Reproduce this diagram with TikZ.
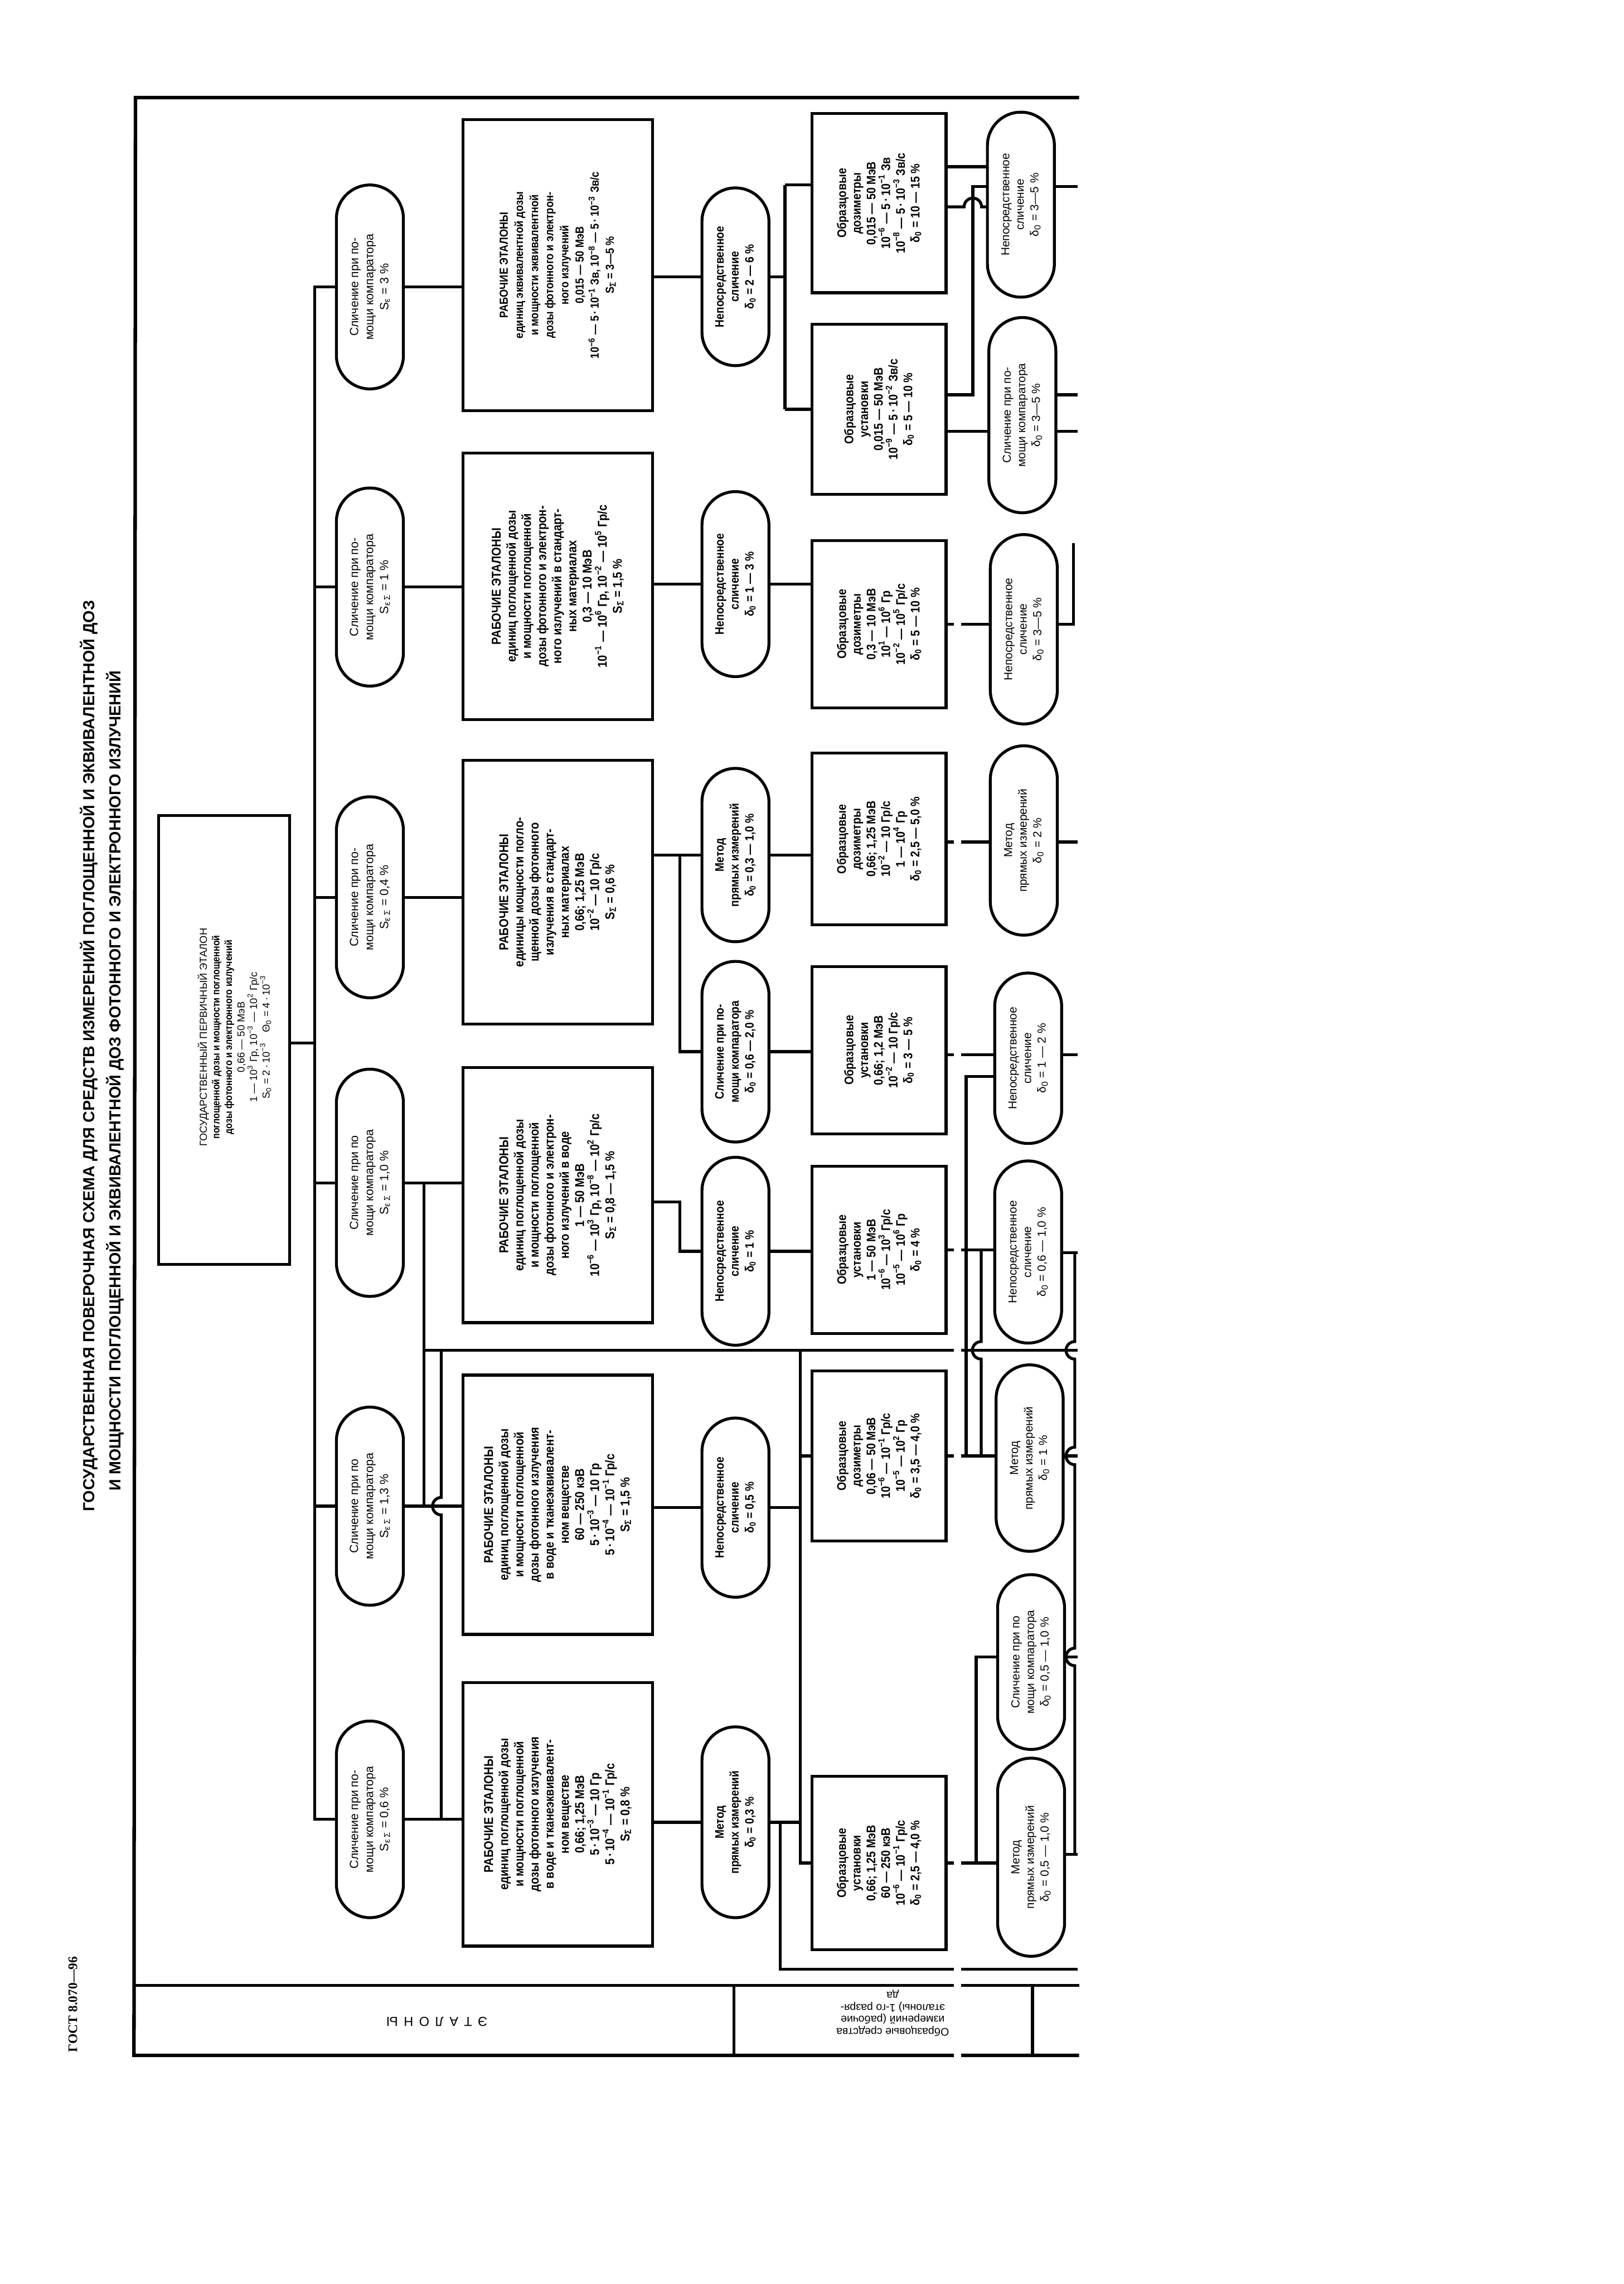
\documentclass[tikz,border=0pt]{standalone}
\usepackage{fontspec}
\setmainfont{Liberation Sans}
\newfontfamily\gostfont{Liberation Serif}
\newfontfamily\condfont[FakeStretch=0.88]{Liberation Sans}
\usetikzlibrary{shapes.misc}
\newcommand\myup[1]{\textsuperscript{#1}}
\newcommand\mydn[1]{\textsubscript{#1}}
\begin{document}
\begin{tikzpicture}[x=1pt,y=-1pt,
  every node/.style={inner sep=0pt,outer sep=0pt},
  ln/.style={line width=2pt},
  box/.style={draw,line width=2pt,rectangle,rotate=90,align=center},
  rbox/.style={box,minimum height=130,font=\condfont\bfseries\fontsize{8.8}{10.4}\selectfont},
  rboxs/.style={box,minimum height=130,font=\condfont\bfseries\fontsize{8}{10.4}\selectfont},
  obox/.style={box,minimum height=92,font=\condfont\bfseries\fontsize{8.6}{10.1}\selectfont},
  pill/.style={draw,line width=2pt,rounded rectangle,rotate=90,align=center,minimum height=46},
  cpill/.style={pill,font=\fontsize{8.2}{10.3}\selectfont},
  ppill/.style={pill,font=\condfont\bfseries\fontsize{8.4}{10.3}\selectfont},
  qpill/.style={pill,font=\fontsize{8}{10}\selectfont},
  ttl/.style={rotate=90,font=\bfseries\fontsize{11}{13}\selectfont},
]
\useasboundingbox (0,0) rectangle (1115,1568);
\fill[white] (0,0) rectangle (1115,1568);
\coordinate (pe) at (740,0);

% frame and label row
\draw[line width=2.4pt] (741,67) -- (93,67) -- (92,1411) -- (741,1411);
\draw[ln] (92,1363) -- (741,1363);
\draw[ln] (504,1363) -- (504,1411);
\draw[ln] (709,1363) -- (709,1411);
\node[rotate=180,font=\fontsize{9}{10}\selectfont] (L1) at (300,1388) {Э\hspace{4pt}Т\hspace{4pt}А\hspace{4pt}Л\hspace{4pt}О\hspace{4pt}Н\hspace{4pt}Ы};
\node[rotate=180,align=center,font=\fontsize{7.5}{8.2}\selectfont] (L2) at (613,1382) {Образцовые средства\\измерений (рабочие\\эталоны) 1-го разря-\\да};

% title
\node[ttl] (T1) at (61,725) {ГОСУДАРСТВЕННАЯ ПОВЕРОЧНАЯ СХЕМА ДЛЯ СРЕДСТВ ИЗМЕРЕНИЙ ПОГЛОЩЕННОЙ И ЭКВИВАЛЕНТНОЙ ДОЗ};
\node[ttl] (T2) at (79,742) {И МОЩНОСТИ ПОГЛОЩЕННОЙ И ЭКВИВАЛЕНТНОЙ ДОЗ ФОТОННОГО И ЭЛЕКТРОННОГО ИЗЛУЧЕНИЙ};
\node[rotate=90,font=\gostfont\bfseries\fontsize{9}{10}\selectfont] (G) at (50,1376) {ГОСТ 8.070—96};

% primary standard
\node[box,minimum width=308,minimum height=90] (B) at (154,714) {};
\node[rotate=90,align=center,font=\fontsize{7}{8.6}\selectfont] (Bt) at (161,712) {ГОСУДАРСТВЕННЫЙ ПЕРВИЧНЫЙ ЭТАЛОН\\
{\condfont\bfseries поглощенной дозы и мощности поглощенной}\\
{\condfont\bfseries дозы фотонного и электронного излучений}\\
0,66 — 50 МэВ\\
1 — 10\myup{3} Гр, 10\myup{−3} — 10\myup{2} Гр/с\\
S\mydn{0} = 2\,·\,10\myup{−3}\quad Θ\mydn{0} = 4\,·\,10\myup{−3}};

% comparison pills
\node[cpill,minimum width=140] (C6) at (254,197) {Сличение при по-\\мощи компаратора\\S\mydn{ε} = 3 \%};
\node[cpill,minimum width=136] (C5) at (254,403) {Сличение при по-\\мощи компаратора\\S\mydn{ε Σ} = 1 \%};
\node[cpill,minimum width=138] (C4) at (254,616) {Сличение при по-\\мощи компаратора\\S\mydn{ε Σ} = 0,4 \%};
\node[cpill,minimum width=156] (C3) at (254,812) {Сличение при по\\мощи компаратора\\S\mydn{ε Σ} = 1,0 \%};
\node[cpill,minimum width=136] (C2) at (254,1034) {Сличение при по\\мощи компаратора\\S\mydn{ε Σ} = 1,3 \%};
\node[cpill,minimum width=135] (C1) at (254,1249) {Сличение при по-\\мощи компаратора\\S\mydn{ε Σ} = 0,6 \%};

% working standards
\node[rboxs,minimum width=200] (R6) at (383,182) {РАБОЧИЕ ЭТАЛОНЫ\\единиц эквивалентной дозы\\и мощности эквивалентной\\дозы фотонного и электрон-\\ного излучений\\0,015 — 50 МэВ\\10\myup{−6} — 5\,·\,10\myup{−1} Зв, 10\myup{−8} — 5\,·\,10\myup{−3} Зв/с\\S\mydn{Σ} = 3—5 \%};
\node[rbox,minimum width=183] (R5) at (383,402.5) {РАБОЧИЕ ЭТАЛОНЫ\\единиц поглощенной дозы\\и мощности поглощенной\\дозы фотонного и электрон-\\ного излучений в стандарт-\\ных материалах\\0,3 — 10 МэВ\\10\myup{−1} — 10\myup{6} Гр, 10\myup{−2} — 10\myup{5} Гр/с\\S\mydn{Σ} = 1,5 \%};
\node[rbox,minimum width=181] (R4) at (383,612.5) {РАБОЧИЕ ЭТАЛОНЫ\\единицы мощности погло-\\щенной дозы фотонного\\излучения в стандарт-\\ных материалах\\0,66; 1,25 МэВ\\10\myup{−2} — 10 Гр/с\\S\mydn{Σ} = 0,6 \%};
\node[rbox,minimum width=175] (R3) at (383,820.5) {РАБОЧИЕ ЭТАЛОНЫ\\единиц поглощенной дозы\\и мощности поглощенной\\дозы фотонного и электрон-\\ного излучений в воде\\1 — 50 МэВ\\10\myup{−6} — 10\myup{3} Гр, 10\myup{−8} — 10\myup{2} Гр/с\\S\mydn{Σ} = 0,8 — 1,5 \%};
\node[rbox,minimum width=178] (R2) at (383,1033) {РАБОЧИЕ ЭТАЛОНЫ\\единиц поглощенной дозы\\и мощности поглощенной\\дозы фотонного излучения\\в воде и тканеэквивалент-\\ном веществе\\60 — 250 кэВ\\5\,·\,10\myup{−3} — 10 Гр\\5\,·\,10\myup{−4} — 10\myup{−1} Гр/с\\S\mydn{Σ} = 1,5 \%};
\node[rbox,minimum width=181] (R1) at (383,1245.5) {РАБОЧИЕ ЭТАЛОНЫ\\единиц поглощенной дозы\\и мощности поглощенной\\дозы фотонного излучения\\в воде и тканеэквивалент-\\ном веществе\\0,66; 1,25 МэВ\\5\,·\,10\myup{−3} — 10 Гр\\5\,·\,10\myup{−4} — 10\myup{−1} Гр/с\\S\mydn{Σ} = 0,8 \%};

% method pills
\node[ppill,minimum width=122] (P6) at (505,190) {Непосредственное\\сличение\\δ\mydn{0} = 2 — 6 \%};
\node[ppill,minimum width=127] (P5) at (505,401) {Непосредственное\\сличение\\δ\mydn{0} = 1 — 3 \%};
\node[ppill,minimum width=119] (P4a) at (505,587) {Метод\\прямых измерений\\δ\mydn{0} = 0,3 — 1,0 \%};
\node[ppill,minimum width=124] (P4b) at (505,722) {Сличение при по-\\мощи компаратора\\δ\mydn{0} = 0,6 — 2,0 \%};
\node[ppill,minimum width=129] (P3) at (505,859) {Непосредственное\\сличение\\δ\mydn{0} = 1 \%};
\node[ppill,minimum width=123] (P2) at (505,1035) {Непосредственное\\сличение\\δ\mydn{0} = 0,5 \%};
\node[ppill,minimum width=131] (P1) at (505,1251) {Метод\\прямых измерений\\δ\mydn{0} = 0,3 \%};

% reference instruments
\node[obox,minimum width=123] (O6a) at (603.6,139.5) {Образцовые\\дозиметры\\0,015 — 50 МэВ\\10\myup{−6} — 5\,·\,10\myup{−1} Зв\\10\myup{−8} — 5\,·\,10\myup{−3} Зв/с\\δ\mydn{0} = 10 — 15 \%};
\node[obox,minimum width=117] (O6b) at (603.6,281) {Образцовые\\установки\\0,015 — 50 МэВ\\10\myup{−9} — 5\,·\,10\myup{−2} Зв/с\\δ\mydn{0} = 5 — 10 \%};
\node[obox,minimum width=115] (O5) at (603.6,428.5) {Образцовые\\дозиметры\\0,3 — 10 МэВ\\10\myup{1} — 10\myup{6} Гр\\10\myup{−2} — 10\myup{5} Гр/с\\δ\mydn{0} = 5 — 10 \%};
\node[obox,minimum width=118] (O4a) at (603.6,576) {Образцовые\\дозиметры\\0,66; 1,25 МэВ\\10\myup{−2} — 10 Гр/с\\1 — 10\myup{4} Гр\\δ\mydn{0} = 2,5 — 5,0 \%};
\node[obox,minimum width=115] (O4b) at (603.6,721) {Образцовые\\установки\\0,66; 1,2 МэВ\\10\myup{−2} — 10 Гр/с\\δ\mydn{0} = 3 — 5 \%};
\node[obox,minimum width=115] (O3) at (603.6,858) {Образцовые\\установки\\1 — 50 МэВ\\10\myup{−6} — 10\myup{3} Гр/с\\10\myup{−5} — 10\myup{6} Гр\\δ\mydn{0} = 4 \%};
\node[obox,minimum width=117] (O2) at (603.6,999.5) {Образцовые\\дозиметры\\0,06 — 50 МэВ\\10\myup{−6} — 10\myup{−1} Гр/с\\10\myup{−5} — 10\myup{2} Гр\\δ\mydn{0} = 3,5 — 4,0 \%};
\node[obox,minimum width=119] (O1) at (603.6,1279) {Образцовые\\установки\\0,66; 1,25 МэВ\\60 — 250 кэВ\\10\myup{−6} — 10\myup{−1} Гр/с\\δ\mydn{0} = 2,5 — 4,0 \%};

% right column pills
\node[qpill,minimum width=127] (Q6a) at (701,140.5) {Непосредственное\\сличение\\δ\mydn{0} = 3—5 \%};
\node[qpill,minimum width=134] (Q6b) at (702,285) {Сличение при по-\\мощи компаратора\\δ\mydn{0} = 3—5 \%};
\node[qpill,minimum width=130] (Q5) at (703,432) {Непосредственное\\сличение\\δ\mydn{0} = 3—5 \%};
\node[qpill,minimum width=130] (Q4a) at (703,577) {Метод\\прямых измерений\\δ\mydn{0} = 2 \%};
\node[qpill,minimum width=117] (Q4b) at (706,726.5) {Непосредственное\\сличение\\δ\mydn{0} = 1 — 2 \%};
\node[qpill,minimum width=125] (Q3) at (706,859.5) {Непосредственное\\сличение\\δ\mydn{0} = 0,6 — 1,0 \%};
\node[qpill,minimum width=128] (Q2a) at (707,1001) {Метод\\прямых измерений\\δ\mydn{0} = 1 \%};
\node[qpill,minimum width=120] (Q2b) at (708,1141) {Сличение при по\\мощи компаратора\\δ\mydn{0} = 0,5 — 1,0 \%};
\node[qpill,minimum width=136] (Q1) at (708,1275) {Метод\\прямых измерений\\δ\mydn{0} = 0,5 — 1,0 \%};

% main bus
\coordinate (bt) at (216,197);
\coordinate (bb) at (216,1249);
\draw[ln] (C6.north) -- (bt) -- (bb) -- (C1.north);
\foreach \c in {C5,C4,C3,C2} \draw[ln] (\c.north) -- (\c.north -| bt);
\draw[ln] (B.south |- 0,716) -- (bt |- 0,716);
\foreach \c/\r in {C6/R6,C5/R5,C4/R4,C3/R3,C1/R1} \draw[ln] (\c.south) -- (\r.north |- \c.south);
\draw[ln] (C2.south) -- (R2.north |- C2.south);

% secondary buses
\coordinate (v1t) at (291,812);
\coordinate (v1b) at (291,1034);
\coordinate (hj) at (291,927);
\draw[ln] (v1t) -- (v1b);
\draw[ln] (hj) -- (pe |- hj);
\draw[ln] (303,927) -- (303,1028) arc[start angle=90,end angle=270,radius=6pt] -- (303,1249);

% working standards to method pills
\foreach \r/\p in {R6/P6,R5/P5,R4/P4a,R2/P2,R1/P1} \draw[ln] (\r.south |- \p.north) -- (\p.north);
\draw[ln] (466.7,587) -- (466.7,722) -- (P4b.north);
\draw[ln] (R3.south |- 0,825) -- (466.7,825) -- (466.7,859) -- (P3.north);

% method pills to instruments
\draw[ln] (P6.south) -- (539,190);
\draw[ln] (539,127) -- (539,281);
\draw[ln] (539,127) -- (O6a.north |- 0,127);
\draw[ln] (539,281) -- (O6b.north);
\draw[ln] (P5.south) -- (O5.north |- P5.south);
\draw[ln] (P4a.south) -- (O4a.north |- P4a.south);
\draw[ln] (P4b.south) -- (O4b.north |- P4b.south);
\draw[ln] (P3.south) -- (O3.north |- P3.south);
\coordinate (b2t) at (549.5,927);
\draw[ln] (b2t) -- (549.5,1279) -- (O1.north);
\draw[ln] (P2.south) -- (P2.south -| b2t);
\draw[ln] (549.5,999.5) -- (O2.north);
\draw[ln] (P1.south) -- (P1.south -| b2t);
\draw[ln] (535.7,1251) -- (535.7,1352) -- (pe |- 0,1352);

% instruments to right pills
\draw[ln] (O6a.south |- 0,114.5) -- (Q6a.north |- 0,114.5);
\draw[ln] (O6a.south |- 0,142) -- (662,142) arc[start angle=180,end angle=0,radius=6pt] -- (Q6a.north |- 0,142);
\draw[ln] (O6b.south |- 0,271) -- (668,271) -- (668,128) -- (Q6a.north |- 0,128);
\draw[ln] (O6b.south |- 0,296) -- (Q6b.north |- 0,296);
\draw[ln] (Q6a.south |- 0,128) -- (pe |- 0,128);
\draw[ln] (Q6b.south |- 0,271) -- (pe |- 0,271);
\draw[ln] (Q6b.south |- 0,296) -- (pe |- 0,296);
\draw[ln] (O5.south) -- (Q5.north |- O5.south);
\draw[ln] (Q5.south |- O5.south) -- (737,428.5) -- (737,373);
\draw[ln] (O4a.south |- 0,578) -- (Q4a.north |- 0,578);
\draw[ln] (Q4a.south |- 0,578) -- (pe |- 0,578);
\draw[ln] (O4b.south |- 0,724) -- (Q4b.north |- 0,724);
\draw[ln] (Q4b.south |- 0,724) -- (pe |- 0,724);
\draw[ln] (Q4b.north |- 0,739) -- (663.4,739) -- (663.4,999.5);
\draw[ln] (O3.south) -- (Q3.north |- O3.south);
\draw[ln] (673.7,858) -- (673.7,921) arc[start angle=90,end angle=270,radius=6pt] -- (673.7,999.5);
\draw[ln] (Q3.south |- 0,860) -- (pe |- 0,860);
\draw[ln] (O2.south) -- (Q2a.north |- O2.south);
\draw[ln] (Q2a.south |- O2.south) -- (pe |- O2.south);
\draw[ln] (O1.south) -- (Q1.north |- O1.south);
\draw[ln] (670.3,1279) -- (670.3,1137.5) -- (Q2b.north |- 0,1137.5);
\draw[ln] (Q2b.south |- 0,1137.5) -- (pe |- 0,1137.5);
\draw[ln] (Q1.south |- 0,1273) -- (pe |- 0,1273);
% continuation at the cut edge
\draw[ln] (738,860) -- (738,921) arc[start angle=90,end angle=270,radius=6pt]
  -- (738,993.5) arc[start angle=90,end angle=270,radius=6pt]
  -- (738,1131.5) arc[start angle=90,end angle=270,radius=6pt] -- (738,1273);

% scan fold band
\fill[white] (655,360) rectangle (660,1420);
\end{tikzpicture}
\end{document}
